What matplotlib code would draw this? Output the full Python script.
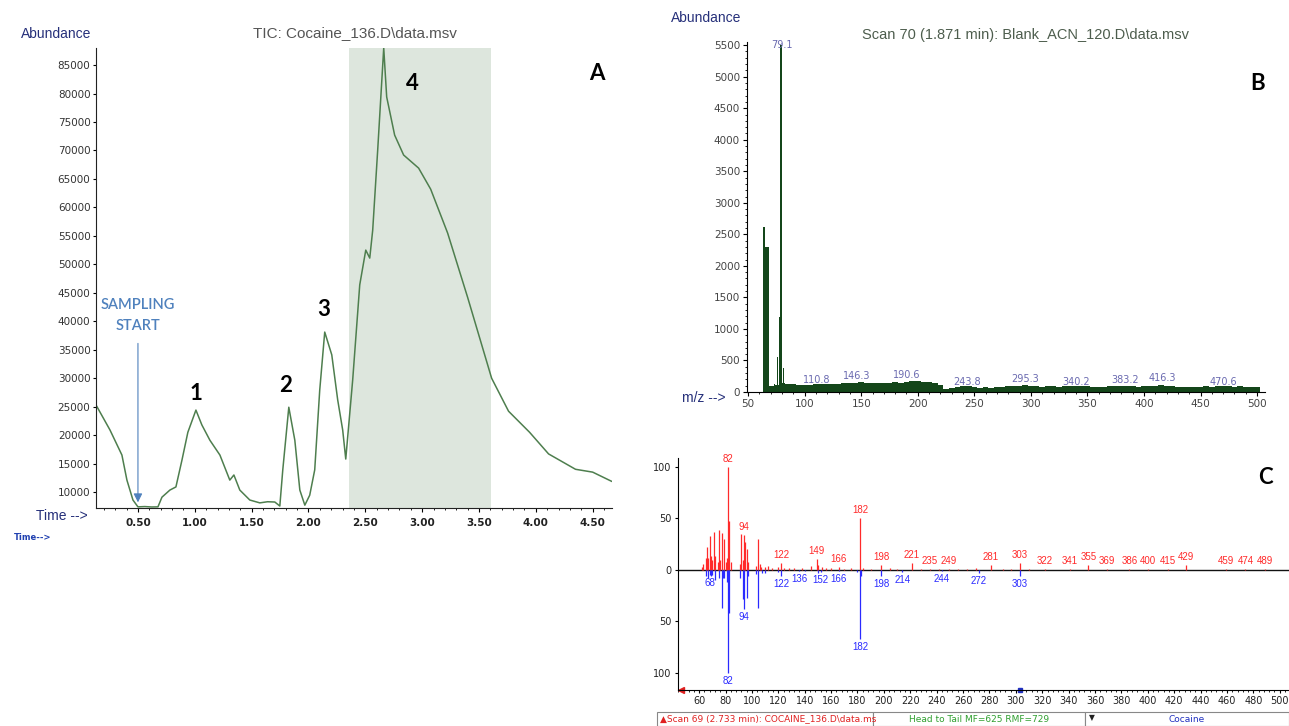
import matplotlib
matplotlib.use('agg')
import matplotlib.pyplot as plt
from matplotlib.patches import Rectangle
from matplotlib.ticker import MultipleLocator

W, H = 1289, 726

# ---- A: TIC trace (time in min, abundance) ----
tic_time = [0.131, 0.254, 0.359, 0.403, 0.456, 0.50, 0.56, 0.62, 0.676, 0.711, 0.781,
            0.834, 0.887, 0.939, 1.010, 1.062, 1.133, 1.221, 1.308, 1.344, 1.396,
            1.484, 1.572, 1.64, 1.704, 1.748, 1.774, 1.827, 1.880, 1.924, 1.968,
            2.011, 2.055, 2.099, 2.143, 2.205, 2.257, 2.301, 2.328, 2.389, 2.451,
            2.504, 2.539, 2.565, 2.609, 2.662, 2.688, 2.758, 2.837, 2.969, 3.075,
            3.224, 3.400, 3.611, 3.760, 3.945, 4.112, 4.349, 4.50, 4.665]
tic_abund = [25300, 20900, 16500, 12100, 8600, 7400, 7450, 7380, 7400, 9100, 10350,
             10900, 15600, 20500, 24400, 21800, 19100, 16500, 12100, 13000, 10350,
             8600, 8100, 8300, 8250, 7550, 13900, 24900, 19100, 10350, 7700,
             9450, 13900, 27900, 38100, 34100, 26200, 20900, 15800, 29700, 46400,
             52500, 51100, 56000, 70100, 88000, 79400, 72700, 69200, 66900, 63200,
             55500, 44200, 30000, 24200, 20500, 16700, 14000, 13500, 11900]
peak_names = ['1', '2', '3', '4']
peak_name_t = [1.01, 1.80, 2.13, 2.91]
peak_name_y = [27400, 28800, 42000, 81700]
shade_t = (2.354, 3.61)

# ---- B: blank mass spectrum ----
b_peak_mz = [64, 65, 66, 67, 68, 73, 76, 78, 79.1, 81]
b_peak_ab = [2620, 2300, 2300, 2300, 2300, 130, 560, 1190, 5500, 380]
b_noise_mz = list(range(70, 501, 5))
b_noise_ab = [100, 110, 150, 130, 120, 110, 115, 110, 130, 120, 125, 130, 120, 135,
              140, 150, 155, 150, 145, 150, 140, 145, 155, 150, 160, 170, 175, 165,
              160, 150, 110, 40, 60, 80, 95, 100, 85, 70, 75, 70, 80, 85, 90, 95,
              100, 110, 95, 90, 85, 90, 95, 85, 90, 95, 100, 95, 90, 85, 80, 85,
              90, 95, 95, 100, 90, 85, 90, 95, 100, 110, 95, 90, 85, 80, 85, 80,
              85, 90, 85, 90, 95, 90, 85, 90, 85, 80, 85]
b_lab_mz = [110.8, 146.3, 190.6, 243.8, 295.3, 340.2, 383.2, 416.3, 470.6]
b_lab_y = [190, 250, 270, 160, 205, 160, 190, 220, 160]

# ---- C: head-to-tail comparison ----
c_head_lab_mz = [82, 94, 122, 149, 166, 182, 198, 221, 235, 249, 281, 303, 322, 341,
                 355, 369, 386, 400, 415, 429, 459, 474, 489]
c_head_lab_ab = [100, 34, 7, 11, 3, 50, 5, 7, 1, 1, 5, 7, 0.5, 1, 5, 0.5, 0.5, 0.5,
                 0.5, 5, 0.5, 0.5, 0.5]
c_head_mz = [62, 63, 65, 66, 67, 68, 69, 70, 71, 72, 74, 75, 76, 77, 79, 80, 81, 83,
             84, 91, 92, 93, 95, 96, 97, 103, 105, 106, 107, 110, 112, 115, 120, 124,
             128, 132, 138, 145, 150, 153, 156, 160, 170, 175, 184, 190, 205, 210,
             228, 242, 256, 263, 270, 290, 296, 310]
c_head_ab = [3, 6, 12, 22, 12, 33, 14, 10, 37, 14, 8, 39, 10, 36, 30, 8, 12, 48,
             8, 6, 35, 10, 27, 20, 8, 4, 30, 6, 3, 3, 4, 2, 3, 2,
             2, 2, 2, 4, 5, 3, 2, 2, 1, 2, 2, 1, 2, 1,
             1, 1, 1, 1, 2, 1, 1, 1]
c_tail_lab_mz = [68, 82, 94, 122, 136, 152, 166, 182, 198, 214, 244, 272, 303]
c_tail_lab_ab = [5, 100, 38, 6, 1, 2, 1, 67, 6, 2, 1, 3, 6]
c_tail_mz = [65, 67, 69, 70, 72, 75, 77, 78, 79, 81, 83, 91, 93, 96, 97, 103, 105,
             108, 110, 120, 140, 150, 180, 183]
c_tail_ab = [6, 8, 6, 5, 10, 8, 37, 8, 8, 12, 42, 8, 28, 27, 6, 4, 37,
             3, 3, 2, 1, 3, 2, 6]


def px(x, y):
    return x / W, 1 - y / H


fig = plt.figure(figsize=(W / 100, H / 100), dpi=100)
navy = '#26307a'

# ================= panel A =================
ax = fig.add_axes([96 / W, 1 - 508 / H, 516 / W, 460 / H])
ax.axvspan(shade_t[0], shade_t[1], color='#dde6dd', lw=0)
ax.plot(tic_time, tic_abund, color='#4e7e4e', lw=1.1)
ax.set_xlim(0.131, 4.67)
ax.set_ylim(7200, 88000)
for s in ['top', 'right']:
    ax.spines[s].set_visible(False)
for s in ['left', 'bottom']:
    ax.spines[s].set_color('#222222')
ax.set_yticks(range(10000, 85001, 5000))
ax.xaxis.set_major_locator(MultipleLocator(0.5))
ax.xaxis.set_minor_locator(MultipleLocator(0.1))
ax.set_xticks([0.5 * i for i in range(1, 10)])
ax.set_xticklabels(['%.2f' % (0.5 * i) for i in range(1, 10)],
                   fontsize=7.5, fontweight='bold', color='#222222')
ax.set_yticklabels([str(v) for v in range(10000, 85001, 5000)], fontsize=7.5, color='#333333')
ax.tick_params(axis='y', length=2, pad=2)
ax.tick_params(axis='x', which='major', length=3, pad=4)
ax.tick_params(axis='x', which='minor', length=1.5)
for name, t, y in zip(peak_names, peak_name_t, peak_name_y):
    ax.text(t, y, name, fontsize=16, fontweight='bold', family='Lato', ha='center', va='center')
ax.text(0.5, 42850, 'SAMPLING', color='#4f81bd', fontsize=10.5, family='Lato',
        fontweight='semibold', ha='center', va='center')
ax.text(0.5, 39200, 'START', color='#4f81bd', fontsize=10.5, family='Lato',
        fontweight='semibold', ha='center', va='center')
ax.annotate('', xy=(0.5, 7700), xytext=(0.5, 36600),
            arrowprops=dict(arrowstyle='-|>', color='#4f81bd', lw=0.8, mutation_scale=13))
fig.text(*px(355, 33), 'TIC: Cocaine_136.D\\data.msv', fontsize=11, color='#555555',
         family='Liberation Sans', ha='center', va='center')
fig.text(*px(56, 34), 'Abundance', fontsize=10, color=navy, family='Liberation Sans',
         ha='center', va='center')
fig.text(*px(62, 516), 'Time -->', fontsize=10, color=navy, family='Liberation Sans',
         ha='center', va='center')
fig.text(*px(33, 538), 'Time-->', fontsize=6, color='#2040b0', fontweight='bold',
         ha='center', va='center')
fig.text(*px(597, 74), 'A', fontsize=16, fontweight='bold', family='Lato', ha='center', va='center')

# ================= panel B =================
bx = fig.add_axes([747 / W, 1 - 392 / H, 518 / W, 350 / H])
bx.bar(b_noise_mz, b_noise_ab, width=5, color='#14461a', lw=0)
bx.bar(b_peak_mz, b_peak_ab, width=1, color='#14461a', lw=0)
bx.vlines(79.1, 0, 5500, color='#14461a', lw=1.3)
bx.set_xlim(49, 507)
bx.set_ylim(0, 5550)
for s in ['top', 'right']:
    bx.spines[s].set_visible(False)
bx.set_yticks(range(0, 5501, 500))
bx.yaxis.set_minor_locator(MultipleLocator(100))
bx.set_xticks(range(50, 501, 50))
bx.xaxis.set_minor_locator(MultipleLocator(10))
bx.tick_params(labelsize=7.5, labelcolor='#444444', length=3, pad=2)
bx.tick_params(which='minor', length=1.5)
bx.text(79.6, 5500, '79.1', fontsize=7, color='#6a6ab0', ha='center', va='center')
for mz, y in zip(b_lab_mz, b_lab_y):
    bx.text(mz, y, '%.1f' % mz, fontsize=7, color='#6a6ab0', ha='center', va='center')
fig.text(*px(706, 18), 'Abundance', fontsize=10, color=navy, family='Liberation Sans',
         ha='center', va='center')
fig.text(*px(1025, 35), 'Scan 70 (1.871 min): Blank_ACN_120.D\\data.msv', fontsize=10.5,
         color='#4d5d4d', family='Liberation Sans', ha='center', va='center')
fig.text(*px(704, 398), 'm/z -->', fontsize=10, color=navy, family='Liberation Sans',
         ha='center', va='center')
fig.text(*px(1258, 84), 'B', fontsize=16, fontweight='bold', family='Lato', ha='center', va='center')

# ================= panel C =================
cx = fig.add_axes([678 / W, 1 - 690 / H, 611 / W, 232 / H])
red, blue = '#ff2a2a', '#2a2aff'
cx.axhline(0, color='#111111', lw=1)
cx.vlines(c_head_mz, 0, c_head_ab, color=red, lw=0.9)
cx.vlines(c_head_lab_mz, 0, c_head_lab_ab, color=red, lw=0.9)
cx.vlines(c_tail_mz, 0, [-v for v in c_tail_ab], color=blue, lw=0.9)
cx.vlines(c_tail_lab_mz, 0, [-v for v in c_tail_lab_ab], color=blue, lw=0.9)
for mz, v in zip(c_head_lab_mz, c_head_lab_ab):
    cx.text(mz, v + 3, str(mz), fontsize=7, color=red, family='Liberation Sans',
            ha='center', va='bottom')
for mz, v in zip(c_tail_lab_mz, c_tail_lab_ab):
    cx.text(mz, -v - 3, str(mz), fontsize=7, color=blue, family='Liberation Sans',
            ha='center', va='top')
cx.set_xlim(44, 507)
cx.set_ylim(-116.5, 108.7)
for s in ['top', 'right']:
    cx.spines[s].set_visible(False)
cx.set_yticks([100, 50, 0, -50, -100])
cx.set_yticklabels(['100', '50', '0', '50', '100'])
cx.set_xticks(range(60, 501, 20))
cx.xaxis.set_minor_locator(MultipleLocator(4))
cx.tick_params(labelsize=7, labelcolor='#222222', length=2.5, pad=2)
cx.tick_params(which='minor', length=1.5)
cx.plot([46], [-116.5], marker='<', color='#e02020', ms=5, clip_on=False)
cx.plot([303], [-116.5], marker='s', color='#2030c0', ms=3.5, clip_on=False)
fig.text(*px(1265, 477), 'C', fontsize=16, fontweight='bold', family='Lato', ha='center', va='center')

# status bar under panel C
boxes = [(657, 873, '\u25b2Scan 69 (2.733 min): COCAINE_136.D\\data.ms', '#e02020', 'left'),
         (873, 1085, 'Head to Tail MF=625 RMF=729', '#30a030', 'center'),
         (1085, 1289, 'Cocaine', '#2030c0', 'center')]
for x0, x1, txt, col, ha in boxes:
    fig.add_artist(Rectangle(px(x0, 726), (x1 - x0) / W, 14 / H, transform=fig.transFigure,
                             facecolor='white', edgecolor='#888888', lw=0.8))
    tx = x0 + 3 if ha == 'left' else (x0 + x1) / 2
    fig.text(*px(tx, 719), txt, fontsize=6.5, color=col, ha=ha, va='center',
             family='DejaVu Sans')
fig.text(*px(1092, 718), '\u25bc', fontsize=5.5, color='#222222', ha='center', va='center')

fig.savefig('out.png', dpi=100)
